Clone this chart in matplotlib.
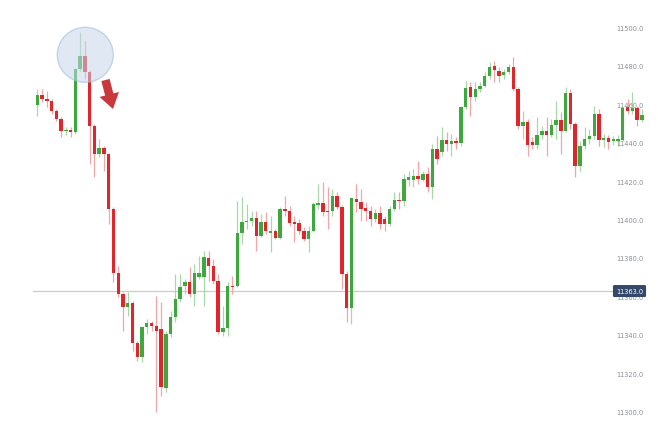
import matplotlib
matplotlib.use("Agg")
import matplotlib.pyplot as plt
from matplotlib.patches import Ellipse, FancyArrow
from matplotlib.transforms import blended_transform_factory, Affine2D
import numpy as np

opens = [11460.1, 11465.1, 11463.0, 11461.8, 11456.6, 11452.6, 11446.2, 11446.9, 11445.7, 11478.6,
         11485.6, 11477.0, 11449.0, 11434.4, 11437.5, 11434.4, 11405.7, 11372.4, 11361.5, 11354.5,
         11356.8, 11336.0, 11328.5, 11344.1, 11346.4, 11345.0, 11343.2, 11312.3, 11340.6, 11349.3,
         11358.9, 11365.5, 11367.5, 11361.5, 11370.2, 11370.2, 11380.2, 11376.2, 11368.4, 11341.8,
         11343.8, 11365.8, 11365.5, 11393.2, 11398.8, 11399.6, 11401.0, 11391.8, 11398.8, 11393.2,
         11394.1, 11390.6, 11405.7, 11404.5, 11398.8, 11398.4, 11394.4, 11390.0, 11394.1, 11408.0,
         11408.9, 11404.9, 11404.5, 11412.3, 11406.6, 11371.9, 11354.0, 11411.0, 11409.5, 11406.0,
         11404.9, 11400.5, 11403.5, 11400.5, 11397.9, 11405.7, 11410.6, 11409.7, 11421.0, 11421.0,
         11423.0, 11421.0, 11424.0, 11417.0, 11437.0, 11435.3, 11441.8, 11439.6, 11441.3, 11440.1,
         11458.7, 11469.4, 11463.9, 11468.2, 11470.0, 11474.8, 11480.4, 11477.8, 11475.7, 11476.9,
         11479.5, 11468.2, 11448.8, 11450.9, 11440.5, 11439.2, 11444.3, 11446.5, 11444.3, 11449.5,
         11452.3, 11446.5, 11466.1, 11450.0, 11428.0, 11438.7, 11442.2, 11443.9, 11455.2, 11441.5,
         11442.5, 11441.3, 11441.3, 11441.8, 11458.7, 11457.0, 11458.2, 11452.2]
closes = [11465.3, 11463.0, 11461.8, 11456.6, 11452.6, 11446.2, 11446.4, 11445.6, 11478.6, 11485.6,
          11477.0, 11449.0, 11434.4, 11437.5, 11434.4, 11405.7, 11372.4, 11361.5, 11354.5, 11356.8,
          11336.0, 11328.5, 11344.1, 11346.4, 11344.6, 11342.4, 11312.9, 11340.6, 11349.3, 11358.9,
          11364.9, 11367.5, 11361.5, 11372.4, 11372.4, 11380.6, 11376.2, 11368.4, 11341.8, 11343.8,
          11365.8, 11365.0, 11393.2, 11398.8, 11399.6, 11401.0, 11391.8, 11398.8, 11394.1, 11394.1,
          11390.6, 11405.7, 11404.5, 11398.4, 11398.0, 11394.4, 11390.0, 11394.4, 11408.3, 11408.9,
          11404.0, 11404.0, 11412.3, 11406.6, 11371.9, 11354.0, 11411.3, 11409.2, 11405.7, 11404.9,
          11400.5, 11403.5, 11397.9, 11397.9, 11405.7, 11410.6, 11409.7, 11421.4, 11422.2, 11423.0,
          11421.4, 11424.0, 11417.0, 11437.0, 11431.8, 11441.8, 11439.6, 11441.3, 11440.0, 11458.7,
          11468.6, 11463.9, 11468.2, 11470.0, 11474.8, 11479.5, 11478.3, 11475.2, 11476.9, 11479.5,
          11468.2, 11448.8, 11450.9, 11439.2, 11439.2, 11444.3, 11446.5, 11444.3, 11449.5, 11452.3,
          11446.5, 11466.1, 11450.0, 11428.0, 11438.7, 11442.2, 11443.9, 11455.2, 11441.8, 11442.5,
          11440.8, 11442.2, 11442.2, 11458.2, 11457.0, 11458.2, 11452.2, 11454.7]
highs = [11468.2, 11468.2, 11467.3, 11463.0, 11457.8, 11453.6, 11448.3, 11448.4, 11479.0, 11497.8,
         11493.4, 11478.0, 11450.0, 11442.0, 11438.5, 11435.0, 11407.0, 11376.0, 11362.5, 11362.3,
         11358.0, 11337.0, 11345.0, 11348.4, 11347.6, 11360.6, 11357.3, 11342.4, 11352.8, 11371.9,
         11371.9, 11369.3, 11375.5, 11377.0, 11381.4, 11384.0, 11384.0, 11379.7, 11372.0, 11355.4,
         11367.5, 11371.0, 11410.0, 11411.8, 11408.3, 11404.9, 11404.9, 11403.1, 11404.0, 11402.2,
         11395.3, 11406.6, 11412.7, 11407.4, 11402.2, 11400.5, 11396.2, 11397.0, 11409.2, 11418.8,
         11419.6, 11417.0, 11416.1, 11414.4, 11407.8, 11373.4, 11411.8, 11418.8, 11416.1, 11409.2,
         11407.4, 11405.7, 11407.4, 11402.2, 11407.4, 11414.4, 11414.4, 11424.0, 11425.5, 11426.6,
         11430.9, 11425.7, 11427.4, 11439.6, 11443.9, 11448.3, 11445.7, 11444.8, 11443.1, 11459.5,
         11472.6, 11471.7, 11471.7, 11471.7, 11476.9, 11482.5, 11483.0, 11479.5, 11478.6, 11481.3,
         11484.7, 11469.3, 11456.9, 11452.6, 11443.2, 11453.6, 11449.1, 11453.6, 11452.6, 11462.0,
         11456.3, 11469.1, 11468.2, 11451.0, 11441.3, 11448.4, 11447.4, 11459.5, 11457.8, 11444.8,
         11444.3, 11443.8, 11444.3, 11458.9, 11463.0, 11466.5, 11459.5, 11457.8]
lows = [11454.3, 11461.5, 11458.9, 11455.2, 11451.7, 11443.1, 11444.4, 11443.1, 11445.0, 11477.8,
        11473.4, 11429.0, 11422.5, 11433.0, 11425.7, 11398.0, 11367.7, 11360.0, 11342.4, 11350.0,
        11332.0, 11326.7, 11325.9, 11340.6, 11342.4, 11300.0, 11308.5, 11310.3, 11339.0, 11347.0,
        11357.3, 11361.5, 11359.7, 11355.4, 11369.3, 11355.4, 11368.4, 11366.7, 11340.6, 11339.7,
        11339.7, 11361.5, 11365.0, 11387.5, 11395.3, 11397.0, 11384.0, 11391.0, 11392.7, 11383.2,
        11390.0, 11390.0, 11402.2, 11397.0, 11388.4, 11392.7, 11389.2, 11383.5, 11393.6, 11405.7,
        11402.2, 11395.3, 11402.2, 11405.7, 11364.0, 11346.7, 11345.8, 11404.0, 11399.6, 11399.6,
        11397.0, 11398.8, 11395.3, 11394.4, 11397.0, 11404.9, 11405.7, 11407.4, 11417.9, 11417.0,
        11418.8, 11420.5, 11414.4, 11411.0, 11429.2, 11433.5, 11436.1, 11433.5, 11437.0, 11438.7,
        11457.8, 11454.3, 11462.1, 11466.5, 11469.1, 11473.4, 11471.7, 11471.7, 11473.4, 11476.0,
        11467.3, 11447.4, 11442.2, 11433.5, 11437.0, 11437.0, 11442.2, 11433.5, 11443.1, 11442.2,
        11434.4, 11445.7, 11447.4, 11422.2, 11425.7, 11437.0, 11439.6, 11442.2, 11438.7, 11438.0,
        11437.0, 11439.0, 11438.5, 11441.3, 11455.2, 11455.2, 11449.1, 11451.0]

tick_values = [11300, 11320, 11340, 11360, 11380, 11400, 11420, 11440, 11460, 11480, 11500]
current_price = 11363.0

W, H = 658, 435
fig = plt.figure(figsize=(W / 100, H / 100), dpi=100)
ax = fig.add_axes([0, 0, 1, 1])
ax.set_axis_off()

px0, dpx = 37.3, 4.76
y_px_ref, p_ref, px_per_unit = 29.0, 11500.0, 1.92
ax.set_xlim((0 - px0) / dpx, (W - px0) / dpx)
ax.set_ylim(p_ref - (H - y_px_ref) / px_per_unit, p_ref + y_px_ref / px_per_unit)

green, red = "#3ea83e", "#e0262b"
lgreen, lred = "#a8d8a8", "#f2a6a8"

x = np.arange(len(opens))
o = np.array(opens); c = np.array(closes); hi = np.array(highs); lo = np.array(lows)
up = c >= o
for xi, h, l, u in zip(x, hi, lo, up):
    ax.vlines(xi, l, h, color=lgreen if u else lred, linewidth=0.9, zorder=2)
bottom = np.minimum(o, c)
height = np.maximum(np.abs(c - o), 0.8)
ax.bar(x, height, bottom=bottom, width=0.72,
       color=[green if u else red for u in up], linewidth=0, zorder=3)

trans = blended_transform_factory(ax.transAxes, ax.transData)
ax.plot([33 / W, 616 / W], [current_price, current_price], transform=trans,
        color="#c8ccd2", linewidth=0.9, zorder=1)

for v in tick_values:
    ax.text(630 / W, v, f"{v:.1f}", transform=trans, ha="center", va="center",
            fontsize=4.8, color="#8a8f96", zorder=5)
ax.text(629.5 / W, current_price, f"{current_price:.1f}", transform=trans, ha="center", va="center",
        fontsize=4.8, color="white", zorder=6,
        bbox=dict(boxstyle="round,pad=0.45,rounding_size=0.2", fc="#34496a", ec="none"))

circ = Ellipse((85.3 / W, 1 - 55.8 / H), 56 / W, 55 / H, transform=fig.transFigure,
               facecolor="#c6d6ea", edgecolor="#9dbbd8", linewidth=1.0, alpha=0.55, zorder=4)
fig.add_artist(circ)

# red arrow, drawn in figure pixel coordinates (y downward)
pix = Affine2D().scale(1 / W, -1 / H).translate(0, 1) + fig.transFigure
ax0, ay0, ax1, ay1 = 105.5, 81.0, 113.0, 110.0
arr = FancyArrow(ax0, ay0, ax1 - ax0, ay1 - ay0, width=8.5, head_width=20, head_length=15,
                 length_includes_head=True, transform=pix, facecolor="#c8383c",
                 edgecolor="none", zorder=7)
fig.add_artist(arr)

fig.savefig("out.png", dpi=100, facecolor="white")
